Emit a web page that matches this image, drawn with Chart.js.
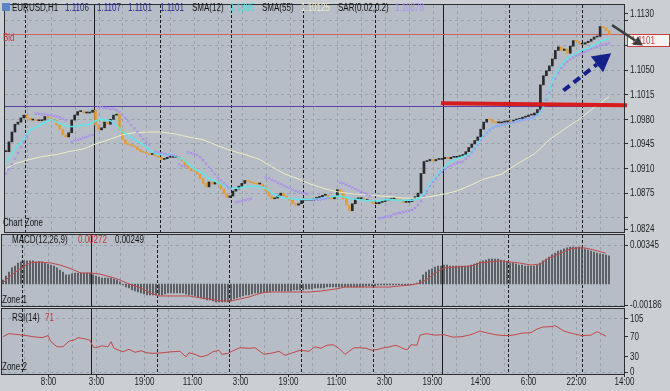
<!DOCTYPE html>
<html lang="en">
<head>
<meta charset="UTF-8">
<title>EURUSD,H1</title>
<script src="https://cdn.jsdelivr.net/npm/chart.js@4.4.1/dist/chart.umd.min.js"></script>
<style>
  body { margin: 0; background: #cbcfd4; }
  #chart {
    position: relative; width: 670px; height: 391px; overflow: hidden;
    font-family: 'Liberation Sans', sans-serif;
  }
  #chart canvas { position: absolute; left: 0; top: 0; }
  .t {
    position: absolute; font-size: 10px; line-height: 10px; white-space: nowrap; color: #141414;
    transform: scaleX(0.8); transform-origin: 0 0;
  }
  .blue { color: #26268c; }
  .red { color: #c23a3a; }
  .icon { position: absolute; left: 2px; top: 3px; width: 8px; height: 8px; background: #5a86c6; }
</style>
</head>
<body>
<div id="chart">
  <canvas id="mainChart" width="670" height="391"></canvas>
  <canvas id="macdChart" width="670" height="391"></canvas>
  <canvas id="rsiChart" width="670" height="391"></canvas>

  <span class="icon"></span>
  <span class="t" style="left:12px;top:3px">EURUSD,H1</span>
  <span class="t blue" style="left:65px;top:3px">1.1106</span>
  <span class="t blue" style="left:97px;top:3px">1.1107</span>
  <span class="t blue" style="left:128px;top:3px">1.1101</span>
  <span class="t blue" style="left:160px;top:3px">1.1101</span>
  <span class="t" style="left:192px;top:3px">SMA(12)</span>
  <span class="t" style="left:230px;top:3px;color:#48dce4">1.1095</span>
  <span class="t" style="left:262px;top:3px">SMA(55)</span>
  <span class="t" style="left:301px;top:3px;color:#f2eec6">1.10125</span>
  <span class="t" style="left:338px;top:3px">SAR(0.02,0.2)</span>
  <span class="t" style="left:395px;top:3px;color:#a892ee">1.10878</span>
  <span class="t red" style="left:3px;top:33px">Bid</span>
  <span class="t" style="left:3px;top:218px">Chart Zone</span>

  <span class="t" style="left:12px;top:235px">MACD(12,26,9)</span>
  <span class="t red" style="left:78px;top:235px">0.00272</span>
  <span class="t" style="left:115px;top:235px">0.00249</span>
  <span class="t" style="left:2px;top:295px">Zone:1</span>

  <span class="t" style="left:12px;top:313px">RSI(14)</span>
  <span class="t red" style="left:45px;top:313px">71</span>
  <span class="t" style="left:2px;top:362px">Zone:2</span>
</div>

<script>
// ---- data (x = bar index, one bar per hour) ----
const closes = [
  1.0934, 1.0948, 1.0962, 1.0973, 1.0976, 1.0982, 1.0986, 1.0982, 1.0979, 1.0980,
  1.0978, 1.0978, 1.0979, 1.0984, 1.0982, 1.0979, 1.0978, 1.0972, 1.0966, 1.0958,
  1.0955, 1.0961, 1.0979, 1.0986, 1.0991, 1.0991, 1.0989, 1.0989, 1.0990, 1.0993,
  1.0972, 1.0965, 1.0968, 1.0976, 1.0973, 1.0980, 1.0986, 1.0987, 1.0965, 1.0951,
  1.0945, 1.0944, 1.0942, 1.0941, 1.0937, 1.0934, 1.0933, 1.0931, 1.0930, 1.0931,
  1.0928, 1.0926, 1.0923, 1.0924, 1.0926, 1.0926, 1.0926, 1.0927, 1.0924, 1.0921,
  1.0914, 1.0910, 1.0907, 1.0906, 1.0902, 1.0896, 1.0889, 1.0884, 1.0891, 1.0888,
  1.0891, 1.0888, 1.0881, 1.0874, 1.0869, 1.0871, 1.0878, 1.0881, 1.0885, 1.0889,
  1.0893, 1.0892, 1.0890, 1.0889, 1.0888, 1.0888, 1.0884, 1.0878, 1.0871, 1.0867,
  1.0868, 1.0872, 1.0875, 1.0871, 1.0867, 1.0865, 1.0860, 1.0858, 1.0860, 1.0865,
  1.0865, 1.0865, 1.0865, 1.0866, 1.0869, 1.0870, 1.0872, 1.0872, 1.0869, 1.0867,
  1.0870, 1.0880, 1.0877, 1.0867, 1.0858, 1.0850, 1.0860, 1.0867, 1.0867, 1.0867,
  1.0865, 1.0865, 1.0864, 1.0860, 1.0860, 1.0862, 1.0863, 1.0865, 1.0866, 1.0867,
  1.0867, 1.0866, 1.0865, 1.0862, 1.0862, 1.0863, 1.0866, 1.0870, 1.0875, 1.0903,
  1.0920, 1.0921, 1.0923, 1.0921, 1.0923, 1.0923, 1.0924, 1.0926, 1.0924, 1.0926,
  1.0926, 1.0927, 1.0927, 1.0930, 1.0934, 1.0940, 1.0945, 1.0950, 1.0955, 1.0966,
  1.0976, 1.0980, 1.0979, 1.0976, 1.0975, 1.0975, 1.0976, 1.0976, 1.0978, 1.0976,
  1.0979, 1.0980, 1.0980, 1.0983, 1.0984, 1.0986, 1.0986, 1.0989, 1.0994, 1.1029,
  1.1042, 1.1049, 1.1056, 1.1066, 1.1078, 1.1083, 1.1078, 1.1080, 1.1074, 1.1084,
  1.1092, 1.1091, 1.1087, 1.1087, 1.1089, 1.1091, 1.1094, 1.1097, 1.1098, 1.1112,
  1.1110, 1.1106, 1.1101
];

const sma12 = [
  [0,1.0919],[1,1.0924],[3,1.0938],[6,1.0952],[8,1.0965],[10,1.0969],[12,1.0973],[15,1.0980],
  [17,1.0976],[19,1.0972],[21,1.0970],[23,1.0970],[26,1.0972],[28,1.0973],[30,1.0978],[32,1.0980],
  [35,1.0978],[37,1.0972],[39,1.0962],[41,1.0957],[43,1.0951],[46,1.0944],[48,1.0937],[50,1.0931],
  [52,1.0930],[55,1.0930],[57,1.0927],[59,1.0924],[61,1.0917],[63,1.0910],[66,1.0903],[68,1.0896],
  [70,1.0892],[72,1.0888],[75,1.0882],[78,1.0882],[80,1.0884],[82,1.0885],[85,1.0884],[87,1.0882],
  [89,1.0875],[91,1.0871],[93,1.0868],[96,1.0867],[98,1.0866],[102,1.0866],[105,1.0867],[107,1.0868],
  [109,1.0870],[111,1.0871],[113,1.0870],[116,1.0867],[118,1.0866],[120,1.0865],[124,1.0864],
  [128,1.0866],[132,1.0865],[136,1.0865],[138,1.0867],[140,1.0874],[142,1.0888],[145,1.0903],
  [147,1.0913],[149,1.0920],[151,1.0924],[155,1.0930],[157,1.0938],[159,1.0952],[161,1.0962],
  [163,1.0968],[166,1.0972],[168,1.0973],[170,1.0976],[172,1.0979],[175,1.0980],[177,1.0983],
  [179,1.0990],[181,1.1008],[183,1.1036],[186,1.1057],[188,1.1067],[190,1.1071],[192,1.1077],
  [195,1.1081],[197,1.1085],[199,1.1091],[202,1.1095]
];

const sma55 = [
  [0,1.0910],[3,1.0917],[8,1.0923],[12,1.0927],[17,1.0930],[21,1.0934],[26,1.0938],[30,1.0945],
  [35,1.0952],[39,1.0958],[43,1.0961],[48,1.0962],[52,1.0962],[57,1.0959],[61,1.0955],[66,1.0951],
  [70,1.0944],[75,1.0936],[80,1.0930],[85,1.0923],[89,1.0913],[93,1.0903],[98,1.0895],[102,1.0888],
  [107,1.0881],[111,1.0877],[116,1.0874],[120,1.0873],[125,1.0871],[129,1.0870],[133,1.0868],
  [138,1.0868],[142,1.0870],[147,1.0874],[151,1.0878],[156,1.0887],[160,1.0895],[166,1.0902],
  [171,1.0916],[177,1.0931],[182,1.0951],[188,1.0969],[192,1.0980],[197,1.0997],[202,1.1012]
];

const sarPts = [
  [0,1.0903],[1,1.0909],[2,1.0916],[3,1.0924],[4,1.0932],[5,1.0940],[6,1.0948],[7,1.0956],
  [10,1.0988],[11,1.0988],[12,1.0987],[13,1.0987],[14,1.0986],[15,1.0986],[16,1.0985],[17,1.0984],
  [18,1.0983],[19,1.0981],[20,1.0979],
  [22,1.0948],[23,1.0950],[24,1.0951],[25,1.0952],[26,1.0954],[27,1.0955],[28,1.0957],[29,1.0958],
  [31,1.0997],[32,1.0997],[33,1.0996],[34,1.0996],[35,1.0995],[36,1.0995],[37,1.0993],[38,1.0990],
  [39,1.0986],[40,1.0982],[41,1.0977],[42,1.0972],[43,1.0967],[44,1.0962],[45,1.0957],[46,1.0952],
  [47,1.0948],[48,1.0944],
  [50,1.0934],[51,1.0933],[52,1.0932],[53,1.0931],[54,1.0930],[55,1.0929],[56,1.0929],[57,1.0928],
  [58,1.0916],[59,1.0914],[60,1.0913],
  [61,1.0933],[62,1.0932],[63,1.0931],[64,1.0929],[65,1.0926],[66,1.0922],[67,1.0917],[68,1.0912],
  [69,1.0907],[70,1.0902],[71,1.0897],[72,1.0893],[73,1.0889],[74,1.0885],[75,1.0882],
  [77,1.0862],[78,1.0863],[79,1.0864],[80,1.0865],[81,1.0866],[82,1.0867],
  [87,1.0897],[88,1.0896],[89,1.0894],[90,1.0892],[91,1.0890],[92,1.0888],[93,1.0886],[94,1.0884],
  [95,1.0882],[96,1.0880],[97,1.0878],[98,1.0877],[99,1.0876],[100,1.0875],[101,1.0874],
  [103,1.0865],[104,1.0866],[105,1.0866],[106,1.0867],[107,1.0867],[108,1.0868],
  [112,1.0890],[113,1.0889],[114,1.0887],[115,1.0885],[116,1.0883],[117,1.0881],[118,1.0879],
  [119,1.0877],[120,1.0875],[121,1.0873],[122,1.0871],
  [125,1.0839],[126,1.0840],[127,1.0841],[128,1.0842],[129,1.0843],[130,1.0845],[131,1.0846],
  [132,1.0847],[133,1.0848],[134,1.0849],[135,1.0850],[136,1.0851],[137,1.0854],[138,1.0858],
  [139,1.0864],[140,1.0871],[141,1.0878],[142,1.0885],[143,1.0891],[144,1.0896],[145,1.0901],
  [146,1.0905],[147,1.0909],[148,1.0912],[149,1.0914],[150,1.0916],[151,1.0918],[152,1.0919],
  [153,1.0920],[154,1.0924],[155,1.0928],[156,1.0933],[157,1.0938],[158,1.0944],[159,1.0950],
  [160,1.0956],[161,1.0961],[162,1.0965],[163,1.0968],[164,1.0970],[165,1.0971],[166,1.0972],
  [167,1.0973],[168,1.0974],[169,1.0975],[170,1.0976],[171,1.0977],[172,1.0978],[173,1.0979],
  [174,1.0980],[175,1.0981],[176,1.0982],[177,1.0984],[178,1.0986],[179,1.0992],[180,1.0999],
  [181,1.1008],[182,1.1018],[183,1.1028],[184,1.1038],[185,1.1046],[186,1.1053],[187,1.1058],
  [188,1.1062],[189,1.1065],[190,1.1068],[191,1.1070],[192,1.1072],[193,1.1074],[194,1.1076],
  [195,1.1078],[196,1.1080],[197,1.1082],[198,1.1083],[199,1.1085],[200,1.1086],[201,1.1087],
  [202,1.1088]
];

// MACD histogram, one value per bar, in units of 0.00001
const macdHist = [
  35,71,106,142,159,186,195,204,204,204, 204,195,195,195,186,177,168,159,142,124,
  106,80,80,89,97,97,97,97,97,97, 80,71,62,53,53,53,53,44,35,18,
  -9,-27,-35,-53,-62,-71,-80,-89,-97,-97, -97,-97,-97,-97,-89,-80,-80,-80,-80,-80,
  -80,-89,-97,-97,-106,-115,-124,-133,-142,-142, -150,-159,-159,-159,-159,-159,-150,-133,-124,-115,
  -106,-97,-97,-89,-80,-80,-80,-71,-71,-71, -62,-62,-62,-62,-62,-62,-62,-53,-53,-53,
  -53,-44,-44,-44,-35,-35,-35,-35,-27,-27, -27,-27,-27,-27,-27,-27,-27,-27,-27,-27,
  -27,-18,-18,-18,-18,-9,-9,-9,-9,-9, -9,-5,-5,-9,-9,-9,-5,-5,9,35,
  80,106,124,133,150,159,159,168,168,159, 159,159,159,159,159,159,168,177,186,195,
  204,212,221,221,221,221,212,204,195,186, 186,177,168,168,159,159,159,159,168,186,
  204,221,239,257,274,292,301,310,319,327, 327,327,327,327,310,301,292,283,274,266,
  262,255,249
];
const macdSignal = [
  [0,9],[2,62],[6,142],[9,186],[12,195],[16,186],[19,168],[22,142],[26,97],[29,97],[32,89],
  [36,62],[39,35],[42,0],[46,-35],[49,-80],[52,-106],[56,-106],[59,-106],[62,-106],[66,-124],
  [69,-133],[72,-150],[76,-150],[79,-133],[82,-115],[86,-80],[89,-71],[96,-71],[102,-71],
  [106,-62],[111,-44],[114,-27],[129,-27],[132,-18],[136,-9],[139,9],[141,35],[144,97],
  [147,142],[151,150],[156,159],[159,186],[162,195],[166,204],[169,195],[172,186],[176,168],
  [179,177],[182,230],[186,274],[189,310],[191,319],[194,319],[197,301],[201,272]
];

const rsi = [
  [0,70],[2,76],[5,74],[8,72],[10,70],[13,68],[15,72],[16,60],[18,50],[20,50],[22,61],[24,64],
  [25,68],[27,66],[29,63],[30,50],[31,48],[33,52],[35,50],[36,60],[37,47],[40,40],[42,45],[44,39],
  [46,42],[48,38],[50,37],[53,38],[56,40],[59,41],[61,30],[62,38],[64,35],[66,30],[68,33],[70,40],
  [72,43],[73,35],[75,37],[77,43],[79,48],[82,47],[84,48],[87,35],[90,38],[92,41],[94,33],[97,39],
  [99,43],[102,41],[104,50],[106,47],[108,53],[110,54],[112,47],[114,35],[117,48],[119,48],[121,47],
  [123,43],[125,45],[127,48],[129,50],[131,53],[134,45],[135,45],[136,54],[138,53],[139,73],[141,76],
  [144,73],[147,74],[150,69],[153,70],[156,74],[159,81],[161,78],[164,74],[167,72],[170,73],[173,77],
  [176,78],[178,85],[180,89],[183,90],[184,92],[187,81],[190,76],[193,72],[196,73],[198,80],[201,71]
];

const timeLabels = ['8:00','3:00','19:00','11:00','3:00','19:00','11:00','3:00','19:00','14:00','6:00','22:00','14:00'];
const timeLabelIdx = [15, 31, 47, 63, 79, 95, 111, 127, 143, 159, 175, 191, 207];
const daySepIdx = [6.5, 51.5, 75.5, 99.5, 123.5, 168.5, 193];
const weekSepIdx = [29.5, 146.5];

const priceTicks = [1.0824, 1.0840, 1.0875, 1.0910, 1.0945, 1.0980, 1.1015, 1.1050, 1.1085, 1.1120, 1.1130];
const priceGrid = [1.0840, 1.0875, 1.0910, 1.0945, 1.0980, 1.1015, 1.1050, 1.1085, 1.1120];
const priceLabels = [1.0824, 1.0875, 1.0910, 1.0945, 1.0980, 1.1015, 1.1050, 1.1130];
const macdTicks = [-0.00186, 0.00345];
const rsiTicks = [0, 30, 70, 105];
const rsiGrid = [0, 105];

const bidPrice = 1.1101;
const levelPrice = 1.0999;
const redLine = [[145.7, 1.1003], [208, 1.1000]];
const blueArrow = [[186.7, 1.1021], [202.7, 1.1074]];
const grayArrow = [[203, 1.1114], [213.3, 1.1085]];

// ---- styling ----
const FONT = "'Liberation Sans', sans-serif";
const SQUEEZE = 0.8;   // the platform uses a narrow face
const panelBg = '#b6bdc6';
const gridColor = '#98a3af';
const xMin = -0.33, xMax = 207;

const pts = arr => arr.map(p => ({ x: p[0], y: p[1] }));

function narrowText(ctx, text, x, y) {
  ctx.save();
  ctx.translate(x, y);
  ctx.scale(SQUEEZE, 1);
  ctx.fillText(text, 0, 0);
  ctx.restore();
}

const panelPlugin = {
  id: 'panel',
  beforeDraw(chart) {
    const { ctx, chartArea: a } = chart;
    ctx.save();
    ctx.fillStyle = panelBg;
    ctx.fillRect(a.left, a.top, a.right - a.left, a.bottom - a.top);
    ctx.restore();
  },
  beforeDatasetsDraw(chart) {
    const { ctx, chartArea: a, scales: { x } } = chart;
    const vline = (i) => {
      const px = Math.round(x.getPixelForValue(i)) + 0.5;
      ctx.beginPath(); ctx.moveTo(px, a.top); ctx.lineTo(px, a.bottom); ctx.stroke();
    };
    ctx.save();
    ctx.lineWidth = 1;
    ctx.strokeStyle = gridColor;
    ctx.setLineDash([3, 3]);
    for (let i = 7; i <= 207; i += 8) vline(i);
    ctx.strokeStyle = '#1b1b1b';
    ctx.setLineDash([3, 2]);
    daySepIdx.forEach(vline);
    ctx.setLineDash([]);
    weekSepIdx.forEach(vline);
    ctx.restore();
  },
  afterDraw(chart) {
    const { ctx, chartArea: a } = chart;
    ctx.save();
    ctx.strokeStyle = '#2b2d30';
    ctx.lineWidth = 1;
    ctx.strokeRect(a.left - 0.5, a.top - 0.5, a.right - a.left + 1, a.bottom - a.top + 1);
    ctx.restore();
  }
};

function yLabelPlugin(labels, digits) {
  return {
    id: 'yLabels',
    afterDraw(chart) {
      const { ctx, chartArea: a, scales: { y } } = chart;
      ctx.save();
      ctx.fillStyle = '#1c1c1c';
      ctx.font = '10px ' + FONT;
      ctx.textBaseline = 'middle';
      labels.forEach(v => narrowText(ctx, v.toFixed(digits), a.right + 6, y.getPixelForValue(v) + 0.5));
      ctx.restore();
    }
  };
}

function arrow(p0, p1, len, half) {
  const dx = p1.x - p0.x, dy = p1.y - p0.y;
  const d = Math.hypot(dx, dy), ux = dx / d, uy = dy / d;
  const bx = p1.x - ux * len, by = p1.y - uy * len;
  return { bx, by, head: [[p1.x, p1.y], [bx - uy * half, by + ux * half], [bx + uy * half, by - ux * half]] };
}

function fillHead(ctx, head) {
  ctx.beginPath();
  head.forEach((h, k) => k ? ctx.lineTo(h[0], h[1]) : ctx.moveTo(h[0], h[1]));
  ctx.closePath();
  ctx.fill();
}

const marksPlugin = {
  id: 'marks',
  beforeDatasetsDraw(chart) {
    const { ctx, chartArea: a, scales: { y } } = chart;
    ctx.save();
    const ly = Math.round(y.getPixelForValue(levelPrice)) + 0.5;
    ctx.strokeStyle = '#5a3fa8'; ctx.lineWidth = 1;
    ctx.beginPath(); ctx.moveTo(a.left, ly); ctx.lineTo(a.right, ly); ctx.stroke();
    const by = Math.round(y.getPixelForValue(bidPrice)) + 0.5;
    ctx.strokeStyle = '#d06262';
    ctx.beginPath(); ctx.moveTo(a.left, by); ctx.lineTo(a.right + 3, by); ctx.stroke();
    ctx.restore();
  },
  afterDatasetsDraw(chart) {
    const { ctx, scales: { x, y } } = chart;
    const P = p => ({ x: x.getPixelForValue(p[0]), y: y.getPixelForValue(p[1]) });
    ctx.save();
    const r0 = P(redLine[0]), r1 = P(redLine[1]);
    ctx.strokeStyle = '#d61c1c'; ctx.lineWidth = 4;
    ctx.beginPath(); ctx.moveTo(r0.x, r0.y); ctx.lineTo(r1.x, r1.y); ctx.stroke();
    const b0 = P(blueArrow[0]), b1 = P(blueArrow[1]);
    const ba = arrow(b0, b1, 18, 10);
    ctx.strokeStyle = '#15208a'; ctx.fillStyle = '#15208a'; ctx.lineWidth = 4;
    ctx.setLineDash([8, 5]);
    ctx.beginPath(); ctx.moveTo(b0.x, b0.y); ctx.lineTo(ba.bx, ba.by); ctx.stroke();
    ctx.setLineDash([]);
    fillHead(ctx, ba.head);
    ctx.restore();
  },
  afterDraw(chart) {
    const { ctx, chartArea: a, scales: { x, y } } = chart;
    const P = p => ({ x: x.getPixelForValue(p[0]), y: y.getPixelForValue(p[1]) });
    ctx.save();
    const by = Math.round(y.getPixelForValue(bidPrice)) + 0.5;
    ctx.fillStyle = '#f4f4f4'; ctx.strokeStyle = '#c83c3c'; ctx.lineWidth = 1;
    ctx.fillRect(a.right + 3.5, by, 42, 12);
    ctx.strokeRect(a.right + 3.5, by, 42, 12);
    ctx.fillStyle = '#c83c3c'; ctx.font = '10px ' + FONT; ctx.textBaseline = 'middle';
    narrowText(ctx, bidPrice.toFixed(4), a.right + 7, by + 6.5);
    const g0 = P(grayArrow[0]), g1 = P(grayArrow[1]);
    const ga = arrow(g0, g1, 9, 5);
    ctx.strokeStyle = '#3b3d40'; ctx.fillStyle = '#3b3d40'; ctx.lineWidth = 2.5;
    ctx.beginPath(); ctx.moveTo(g0.x, g0.y); ctx.lineTo(ga.bx, ga.by); ctx.stroke();
    fillHead(ctx, ga.head);
    ctx.restore();
  }
};

const timeAxisPlugin = {
  id: 'timeAxis',
  afterDraw(chart) {
    const { ctx, chartArea: a, scales: { x } } = chart;
    ctx.save();
    ctx.strokeStyle = '#2b2d30'; ctx.fillStyle = '#1c1c1c';
    ctx.font = '10px ' + FONT; ctx.textAlign = 'center'; ctx.textBaseline = 'middle';
    timeLabelIdx.forEach((idx, k) => {
      const px = Math.round(x.getPixelForValue(idx)) + 0.5;
      ctx.beginPath(); ctx.moveTo(px, a.bottom); ctx.lineTo(px, a.bottom + 3); ctx.stroke();
      narrowText(ctx, timeLabels[k], px, a.bottom + 8);
    });
    ctx.restore();
  }
};

function panelChart(id, cfg) {
  return new Chart(document.getElementById(id), {
    type: 'bar',
    data: { datasets: cfg.datasets },
    options: {
      responsive: false,
      animation: false,
      devicePixelRatio: 1,
      layout: { padding: { left: 2, right: 0, top: cfg.top, bottom: 391 - cfg.bottom } },
      plugins: { legend: { display: false }, tooltip: { enabled: false } },
      scales: {
        x: { type: 'linear', min: xMin, max: xMax, offset: false, display: false },
        y: {
          position: 'right',
          min: cfg.min,
          max: cfg.max,
          afterFit: s => { s.width = 46; },
          afterBuildTicks: s => { s.ticks = cfg.ticks.map(v => ({ value: v })); },
          grid: {
            color: c => (c.tick && cfg.grid.includes(c.tick.value)) ? gridColor : 'rgba(0,0,0,0)',
            tickColor: '#2b2d30',
            tickLength: 4
          },
          border: { display: false, dash: [3, 3] },
          ticks: { display: false }
        }
      }
    },
    plugins: [panelPlugin, yLabelPlugin(cfg.labels, cfg.digits)].concat(cfg.plugins || [])
  });
}

// main price panel
panelChart('mainChart', {
  top: 1, bottom: 232,
  min: 1.08198, max: 1.11426,
  ticks: priceTicks, grid: priceGrid, labels: priceLabels, digits: 4,
  plugins: [marksPlugin],
  datasets: [
    {
      type: 'bar',
      order: 4,
      data: closes.map((c, i) => ({ x: i, y: [i ? closes[i - 1] : c, c] })),
      barThickness: 2,
      minBarLength: 1,
      backgroundColor: c => (c.raw && c.raw.y[1] < c.raw.y[0]) ? '#e39b3a' : '#2a2a2a'
    },
    { type: 'line', order: 3, data: pts(sma55), borderColor: '#f0ecc4', borderWidth: 1, pointRadius: 0, tension: 0 },
    { type: 'line', order: 2, data: pts(sma12), borderColor: '#5ee6ea', borderWidth: 1.5, pointRadius: 0, tension: 0 },
    {
      type: 'line', order: 1, data: pts(sarPts), showLine: false,
      pointStyle: 'crossRot', pointRadius: 1.8, pointBorderWidth: 1,
      pointBorderColor: '#a98af0', pointBackgroundColor: '#a98af0'
    }
  ]
});

// MACD panel
panelChart('macdChart', {
  top: 235, bottom: 306,
  min: -0.0019485, max: 0.004335,
  ticks: macdTicks, grid: macdTicks, labels: macdTicks, digits: 5,
  datasets: [
    {
      type: 'bar', order: 2,
      data: macdHist.map((v, i) => ({ x: i, y: v / 1e5 })),
      barThickness: 1,
      backgroundColor: '#4b4d50'
    },
    {
      type: 'line', order: 1,
      data: macdSignal.map(p => ({ x: p[0], y: p[1] / 1e5 })),
      borderColor: '#c44848', borderWidth: 1, pointRadius: 0, tension: 0
    }
  ]
});

// RSI panel
panelChart('rsiChart', {
  top: 309, bottom: 374,
  min: -3.96, max: 124.8,
  ticks: rsiTicks, grid: rsiGrid, labels: rsiTicks, digits: 0,
  plugins: [timeAxisPlugin],
  datasets: [
    { type: 'line', data: pts(rsi), borderColor: '#c44848', borderWidth: 1, pointRadius: 0, tension: 0 }
  ]
});
</script>
</body>
</html>
